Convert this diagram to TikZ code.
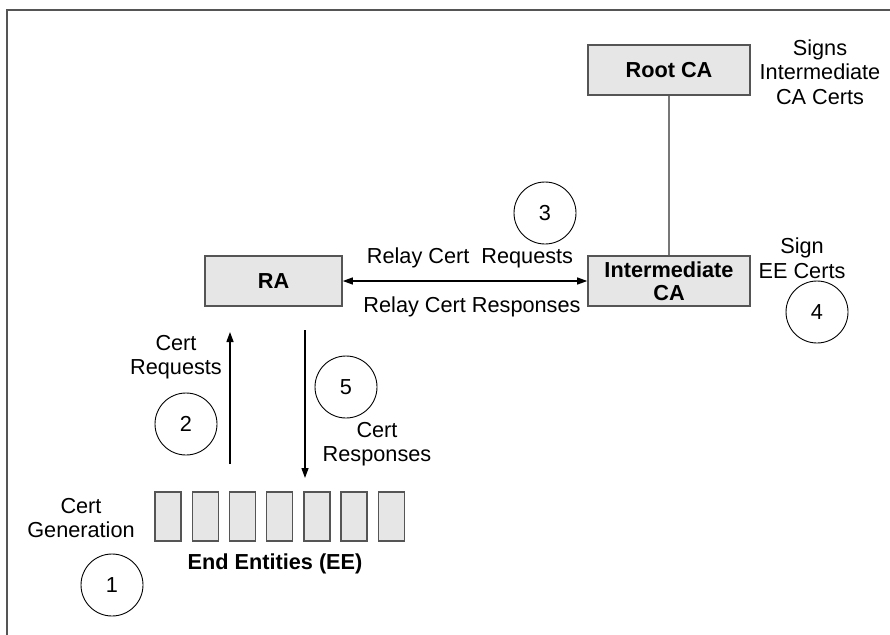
\documentclass[tikz,border=0pt]{standalone}
\usepackage{fontspec}
\setmainfont{Liberation Sans}
\usetikzlibrary{arrows.meta}
\definecolor{boxfill}{HTML}{E6E6E6}
\definecolor{boxline}{HTML}{555555}
\begin{document}
\begin{tikzpicture}[x=1pt,y=-1pt,
  every node/.style={font=\fontsize{21.7}{24.5}\selectfont},
  entity/.style={draw=boxline,line width=1.6pt,fill=boxfill,minimum width=162pt,minimum height=50pt,inner sep=0pt,font=\fontsize{21.7}{24.5}\selectfont\bfseries,align=center},
  eebox/.style={draw=boxline,line width=1.4pt,fill=boxfill,minimum width=26pt,minimum height=49pt,inner sep=0pt},
  stepnum/.style={draw,circle,line width=0.9pt,minimum size=62pt,inner sep=0pt},
  lbl/.style={align=center,inner sep=0pt},
  flow/.style={line width=1.3pt,-{Triangle[length=10pt,width=7pt]}},
  frame/.style={draw=boxline,line width=1.5pt}]
\useasboundingbox (0,0) rectangle (890,634);
\draw[frame] (7,640) -- (7,10) -- (896,10);

% main boxes
\node[entity] (root) at (669,70) {Root CA};
\node[entity] (inter) at (669,281) {Intermediate\\[-1pt]CA};
\node[entity,minimum width=137pt] (ra) at (273.5,281) {RA};

% connectors between boxes
\draw[line width=1.3pt,draw=boxline!80] (root) -- (inter);
\draw[line width=1.3pt,{Triangle[length=10pt,width=7pt]}-{Triangle[length=10pt,width=7pt]}] (ra.east) -- (inter.west);

% labels
\node[lbl] (signsl) at (820,72) {Signs\\Intermediate\\CA Certs};
\node[lbl] (signl) at (802,258) {Sign\\EE Certs};
\node[lbl] (relreq) at (470,258) {Relay Cert\ \ Requests};
\node[lbl] (relresp) at (472,307) {Relay Cert Responses};
\node[lbl] (certreq) at (176,357) {Cert\\Requests};
\node[lbl] (certresp) at (377,444) {Cert\\Responses};
\node[lbl] (certgen) at (81,518) {Cert\\Generation};
\node[lbl,font=\fontsize{21.7}{24.5}\selectfont\bfseries] (eel) at (275,564) {End Entities (EE)};

% step circles
\node[stepnum] (s1) at (112,585) {1};
\node[stepnum] (s2) at (186,424) {2};
\node[stepnum] (s3) at (545,213) {3};
\node[stepnum] (s4) at (817,312) {4};
\node[stepnum] (s5) at (346,387) {5};

% end entities
\foreach \i in {0,...,6} {
  \node[eebox] (ee\i) at ({168+37.2*\i},516.5) {};
}

% request / response arrows
\coordinate (upstart) at (230,464);
\coordinate (upend) at (230,332);
\coordinate (downstart) at (305,330);
\coordinate (downend) at (305,478);
\draw[flow] (upstart) -- (upend);
\draw[flow] (downstart) -- (downend);
\end{tikzpicture}
\end{document}
